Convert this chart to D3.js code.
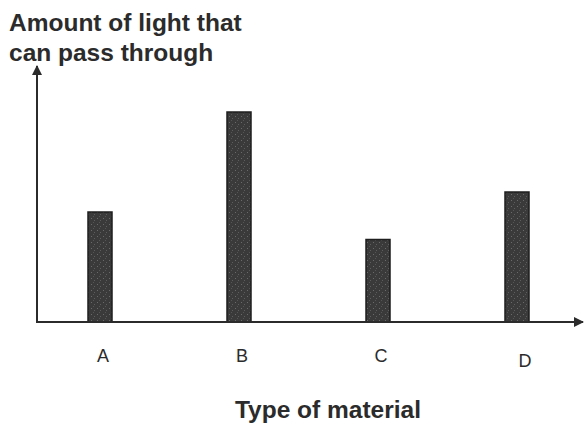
<!DOCTYPE html>
<html>
<head>
<meta charset="utf-8">
<script src="https://cdn.jsdelivr.net/npm/d3@7"></script>
<style>
  body { margin: 0; background: #fff; }
  svg { display: block; font-family: "Liberation Sans", Arial, sans-serif; }
</style>
</head>
<body>
<svg id="chart" width="585" height="427"></svg>
<script>
const materials = ["A", "B", "C", "D"];
const lightAmount = [4.4, 8.4, 3.3, 5.2];
const yTitle = ["Amount of light that", "can pass through"];
const xTitle = "Type of material";

const width = 585;
const height = 427;
const svg = d3.select("#chart");
const ink = "#2b2b2b";

const x = d3.scalePoint().domain(materials).range([100, 517]);
const y = d3.scaleLinear().domain([0, 10]).range([322, 72]);
const barWidth = 24;

// grainy fill for the bars, like the printed original
const defs = svg.append("defs");
const pat = defs.append("pattern")
  .attr("id", "grain")
  .attr("width", 6)
  .attr("height", 6)
  .attr("patternUnits", "userSpaceOnUse");
pat.append("rect").attr("width", 6).attr("height", 6).attr("fill", "#3a3a3a");
pat.append("rect").attr("x", 1).attr("y", 2).attr("width", 1).attr("height", 1).attr("fill", "#6a6a6a");
pat.append("rect").attr("x", 4).attr("y", 4).attr("width", 1).attr("height", 1).attr("fill", "#5e5e5e");
pat.append("rect").attr("x", 3).attr("y", 0).attr("width", 1).attr("height", 1).attr("fill", "#555");

defs.append("marker")
  .attr("id", "arrow")
  .attr("viewBox", "0 0 10 10")
  .attr("refX", 9)
  .attr("refY", 5)
  .attr("markerWidth", 5)
  .attr("markerHeight", 5)
  .attr("orient", "auto")
  .append("path")
  .attr("d", "M0,0 L10,5 L0,10 z")
  .attr("fill", ink);

// bars
svg.selectAll("rect.bar")
  .data(materials.map((m, i) => ({ m, v: lightAmount[i] })))
  .enter()
  .append("rect")
  .attr("class", "bar")
  .attr("x", (d) => x(d.m) - barWidth / 2)
  .attr("y", (d) => y(d.v))
  .attr("width", barWidth)
  .attr("height", (d) => y(0) - y(d.v))
  .attr("fill", "url(#grain)")
  .attr("stroke", "#1e1e1e")
  .attr("stroke-width", 1.5);

// axes with arrows
svg.append("line")
  .attr("x1", 37).attr("x2", 37)
  .attr("y1", y(0) + 1).attr("y2", 66)
  .attr("stroke", ink).attr("stroke-width", 2)
  .attr("marker-end", "url(#arrow)");

svg.append("line")
  .attr("x1", 37).attr("x2", 583)
  .attr("y1", y(0)).attr("y2", y(0))
  .attr("stroke", ink).attr("stroke-width", 2)
  .attr("marker-end", "url(#arrow)");

// category labels
svg.selectAll(".cat-label")
  .data(materials)
  .enter()
  .append("text")
  .attr("class", "cat-label")
  .attr("x", (d) => x(d) + (d === "D" ? 8 : 3))
  .attr("y", (d) => (d === "D" ? 367 : 362))
  .attr("text-anchor", "middle")
  .attr("font-size", "18px")
  .attr("fill", ink)
  .text((d) => d);

// y title
svg.append("text")
  .attr("font-size", "24.5px")
  .attr("font-weight", "bold")
  .attr("fill", ink)
  .selectAll("tspan")
  .data(yTitle)
  .enter()
  .append("tspan")
  .attr("x", 9)
  .attr("y", (d, i) => 31 + i * 30)
  .text((d) => d);

// x title
svg.append("text")
  .attr("x", 328)
  .attr("y", 418)
  .attr("text-anchor", "middle")
  .attr("font-size", "24.5px")
  .attr("font-weight", "bold")
  .attr("fill", ink)
  .text(xTitle);
</script>
</body>
</html>
